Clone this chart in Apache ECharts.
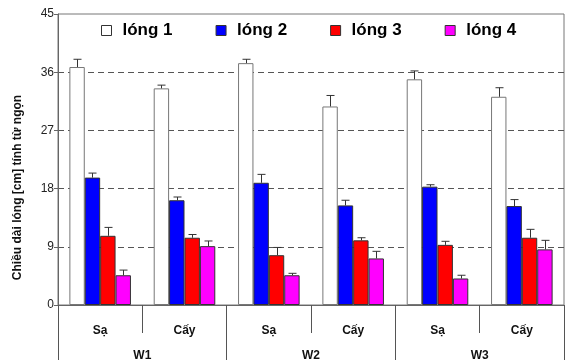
<!DOCTYPE html>
<html>
<head>
<meta charset="utf-8">
<script src="https://cdn.jsdelivr.net/npm/echarts@6/dist/echarts.min.js"></script>
<style>
html,body{margin:0;padding:0;background:#fff;}
#chart{width:566px;height:362px;}
</style>
</head>
<body>
<div id="chart"></div>
<script>
var categories = ['W1-Sạ','W1-Cấy','W2-Sạ','W2-Cấy','W3-Sạ','W3-Cấy'];
var groups = ['W1','W2','W3'];
var seriesNames = ['lóng 1','lóng 2','lóng 3','lóng 4'];
var long1 = [36.8, 33.5, 37.4, 30.7, 34.9, 32.2];
var long1Err = [1.2, 0.5, 0.6, 1.7, 1.3, 1.4];
var long2 = [19.7, 16.2, 18.9, 15.4, 18.3, 15.3];
var long2Err = [0.7, 0.5, 1.3, 0.8, 0.3, 1.0];
var long3 = [10.7, 10.4, 7.7, 10.0, 9.3, 10.4];
var long3Err = [1.3, 0.5, 1.2, 0.4, 0.55, 1.3];
var long4 = [4.6, 9.1, 4.6, 7.2, 4.1, 8.6];
var long4Err = [0.8, 0.8, 0.3, 1.1, 0.5, 1.4];
var yTicks = [0, 9, 18, 27, 36, 45];

var values = [long1, long2, long3, long4];
var errors = [long1Err, long2Err, long3Err, long4Err];
var colors = ['#ffffff', '#0000ff', '#ff0000', '#ff00ff'];
var borders = ['#777777', '#333333', '#333333', '#333333'];
var CAT_GAP = 0.27;

var errData = [];
values.forEach(function (arr, si) {
  arr.forEach(function (v, ci) { errData.push([ci, si, v, errors[si][ci]]); });
});

var series = values.map(function (arr, si) {
  return {
    name: seriesNames[si], type: 'bar', data: arr,
    barGap: '0%', barCategoryGap: (CAT_GAP * 100) + '%',
    itemStyle: { color: colors[si], borderColor: borders[si], borderWidth: 1 },
    z: 2
  };
});
series.push({
  type: 'custom', name: 'err', data: errData, z: 3,
  encode: { x: 0, y: 2 },
  renderItem: function (params, api) {
    var ci = api.value(0), si = api.value(1), v = api.value(2), e = api.value(3);
    var p = api.coord([ci, v]);
    var pt = api.coord([ci, v + e]);
    var band = api.size([1, 0])[0];
    var gw = band * (1 - CAT_GAP);
    var bw = gw / 4;
    var x = Math.round(p[0] - gw / 2 + bw * (si + 0.5)) + 0.5;
    var st = { stroke: '#333', lineWidth: 1 };
    return { type: 'group', children: [
      { type: 'line', shape: { x1: x, y1: p[1], x2: x, y2: pt[1] }, style: st },
      { type: 'line', shape: { x1: x - 4, y1: pt[1], x2: x + 4, y2: pt[1] }, style: st }
    ] };
  }
});

var chart = echarts.init(document.getElementById('chart'));
chart.setOption({
  animation: false,
  textStyle: { fontFamily: 'Liberation Sans, Arial, sans-serif' },
  grid: { left: 58, right: 2, top: 14, bottom: 55, show: true, borderColor: '#777', borderWidth: 1 },
  legend: {
    data: seriesNames, left: 96, top: 17,
    itemWidth: 10, itemHeight: 10, itemGap: 43,
    icon: 'rect',
    itemStyle: { borderColor: '#333', borderWidth: 1 },
    textStyle: { fontSize: 17, fontWeight: 'bold', color: '#000', padding: [0, 0, 0, 6] }
  },
  xAxis: [{
    type: 'category', data: categories, position: 'bottom',
    axisLine: { show: true, lineStyle: { color: '#666' } },
    axisTick: { show: true, length: 28, interval: 0, alignWithLabel: false, lineStyle: { color: '#555' } },
    axisLabel: { interval: 0, margin: 20, fontSize: 12, fontWeight: 'bold', color: '#111',
      formatter: function (v) { return v.split('-')[1]; } }
  }, {
    type: 'category', data: groups, position: 'bottom', gridIndex: 0,
    axisLine: { show: false },
    axisTick: { show: true, length: 55, interval: 0, alignWithLabel: false, lineStyle: { color: '#555' } },
    axisLabel: { interval: 0, margin: 45, fontSize: 12, fontWeight: 'bold', color: '#111' }
  }],
  yAxis: {
    type: 'value', min: yTicks[0], max: yTicks[yTicks.length - 1], interval: 9,
    name: 'Chiều dài lóng [cm] tính từ ngọn', nameLocation: 'middle', nameGap: 34,
    nameTextStyle: { fontSize: 12, fontWeight: 'bold', color: '#111', padding: [0, 56, 0, 0] },
    axisLine: { show: true, lineStyle: { color: '#666' } },
    axisTick: { show: true, length: 4, lineStyle: { color: '#666' } },
    axisLabel: { fontSize: 12, color: '#222', margin: 4 },
    splitLine: { show: true, showMinLine: false, showMaxLine: false, lineStyle: { color: '#555', type: [6, 4], width: 1 } }
  },
  series: series
});
</script>
</body>
</html>
